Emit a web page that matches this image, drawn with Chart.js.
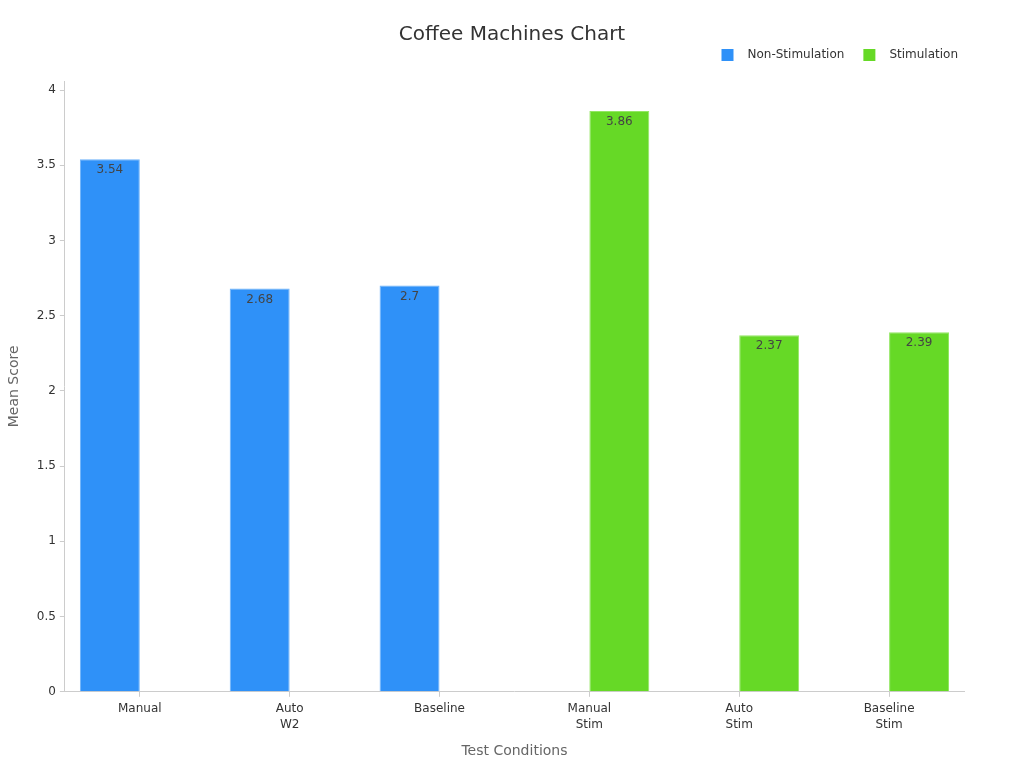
<!DOCTYPE html>
<html>
<head>
<meta charset="utf-8">
<script src="https://cdn.jsdelivr.net/npm/chart.js@4/dist/chart.umd.min.js"></script>
<style>
html,body{margin:0;padding:0;background:#fff;}
#wrap{width:1024px;height:768px;}
</style>
</head>
<body>
<div id="wrap"><canvas id="c" width="1024" height="768"></canvas></div>
<script>
const categories = ["Manual", ["Auto","W2"], "Baseline", ["Manual","Stim"], ["Auto","Stim"], ["Baseline","Stim"]];
const nonStimulation = [3.54, 2.68, 2.7, null, null, null];
const stimulation = [null, null, null, 3.86, 2.37, 2.39];
const yTicks = [0, 0.5, 1, 1.5, 2, 2.5, 3, 3.5, 4];
const seriesNames = ["Non-Stimulation", "Stimulation"];

const FONT = "'DejaVu Sans', sans-serif";
const colors = ["#2f91f8", "#66d926"];
const borders = ["#6db2fa", "#93e763"];
const SWATCH_OFFSET = 13;

const centerTitle = {
  id: 'centerTitle',
  afterLayout(chart) {
    const t = chart.titleBlock;
    if (t) { t.left = 0; t.right = chart.width; t.width = chart.width; }
  }
};

const legendSwatches = {
  id: 'legendSwatches',
  afterDraw(chart) {
    const lg = chart.legend;
    if (!lg || !lg.legendHitBoxes) return;
    const ctx = chart.ctx;
    ctx.save();
    lg.legendHitBoxes.forEach((hb, i) => {
      const item = lg.legendItems[i];
      ctx.fillStyle = colors[item.datasetIndex];
      const cy = hb.top + hb.height / 2;
      ctx.fillRect(hb.left + SWATCH_OFFSET, cy - 6, 12, 12);
    });
    ctx.restore();
  }
};

const valueLabels = {
  id: 'valueLabels',
  afterDatasetsDraw(chart) {
    const ctx = chart.ctx;
    ctx.save();
    ctx.font = "12px " + FONT;
    ctx.fillStyle = "#444";
    ctx.textAlign = "center";
    ctx.textBaseline = "middle";
    chart.data.datasets.forEach((ds, i) => {
      const meta = chart.getDatasetMeta(i);
      meta.data.forEach((bar, j) => {
        const v = ds.data[j];
        if (v === null || v === undefined) return;
        ctx.fillText(String(v), bar.x, bar.y + 11);
      });
    });
    ctx.restore();
  }
};

new Chart(document.getElementById('c'), {
  type: 'bar',
  data: {
    labels: categories,
    datasets: [
      { label: seriesNames[0], data: nonStimulation, backgroundColor: colors[0], borderColor: borders[0], borderWidth: 1 },
      { label: seriesNames[1], data: stimulation, backgroundColor: colors[1], borderColor: borders[1], borderWidth: 1 }
    ]
  },
  options: {
    responsive: false,
    animation: false,
    maintainAspectRatio: false,
    layout: { padding: { left: 6, right: 60, top: 16, bottom: 8 } },
    datasets: { bar: { barPercentage: 1.0, categoryPercentage: 0.8 } },
    plugins: {
      title: {
        display: true,
        text: "Coffee Machines Chart",
        color: "#333",
        font: { family: FONT, size: 20, weight: 'normal' },
        padding: { top: 7, bottom: -14 }
      },
      legend: {
        display: true,
        position: 'top',
        align: 'end',
        labels: {
          color: "#333",
          font: { family: FONT, size: 12 },
          boxWidth: SWATCH_OFFSET + 20,
          boxHeight: 32,
          padding: 6,
          generateLabels(chart) {
            return chart.data.datasets.map((ds, i) => ({
              text: ds.label,
              fillStyle: 'rgba(0,0,0,0)',
              strokeStyle: 'rgba(0,0,0,0)',
              lineWidth: 0,
              fontColor: "#333",
              hidden: !chart.isDatasetVisible(i),
              datasetIndex: i
            }));
          }
        }
      },
      tooltip: { enabled: false }
    },
    scales: {
      x: {
        grid: { display: true, drawOnChartArea: false, color: "#ccc", tickLength: 5, offset: false },
        border: { display: true, color: "#ccc" },
        ticks: { color: "#333", font: { family: FONT, size: 12, lineHeight: 1.35 }, padding: 4, maxRotation: 0 },
        title: { display: true, text: "Test Conditions", color: "#666", font: { family: FONT, size: 14 }, padding: { top: 6, bottom: 0 } }
      },
      y: {
        min: 0,
        max: 4.06,
        grid: { display: true, drawOnChartArea: false, color: "#ccc", tickLength: 5 },
        border: { display: true, color: "#ccc" },
        ticks: { color: "#333", font: { family: FONT, size: 12 }, padding: 4, callback: (v) => String(v) },
        afterBuildTicks(scale) {
          scale.ticks = yTicks.map(v => ({ value: v }));
        },
        title: { display: true, text: "Mean Score", color: "#666", font: { family: FONT, size: 14 }, padding: { top: 0, bottom: 10 } }
      }
    }
  },
  plugins: [centerTitle, valueLabels, legendSwatches]
});
</script>
</body>
</html>
